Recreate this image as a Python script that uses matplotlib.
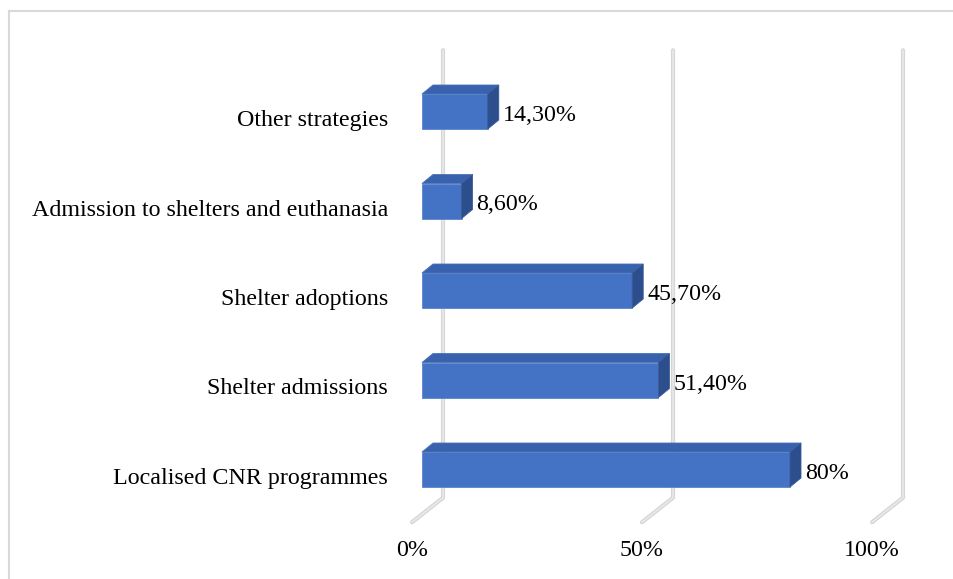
import matplotlib
matplotlib.use("Agg")
import matplotlib.pyplot as plt
from matplotlib.patches import Polygon
from matplotlib.lines import Line2D

# data
categories = ["Localised CNR programmes", "Shelter admissions", "Shelter adoptions",
              "Admission to shelters and euthanasia", "Other strategies"]
values = [80, 51.4, 45.7, 8.6, 14.3]
value_labels = ["80%", "51,40%", "45,70%", "8,60%", "14,30%"]
ticks = [0, 50, 100]
tick_labels = ["0%", "50%", "100%"]

W, H = 954, 579
plt.rcParams['font.family'] = ['Liberation Serif', 'DejaVu Serif']
FS = 17.3

fig = plt.figure(figsize=(W / 100, H / 100), dpi=100)
# axes placed so the front plane of the bars maps onto the reference
ax = fig.add_axes([422 / W, (H - 514.25) / H, 460 / W, 447.5 / H])
ax.set_xlim(0, 100)
ax.set_ylim(-0.5, len(categories) - 0.5)
ax.axis('off')

# pseudo-3d offsets (data units)
px_x = 100 / 460.0
px_y = len(categories) / 447.5
bdx, bdy = 11 * px_x, 9 * px_y          # bar depth
wdx, wdy = 21 * px_x, 16.5 * px_y       # back wall
fdx, fdy = 10 * px_x, 8 * px_y          # floor front edge
bh = 35 * px_y                          # bar thickness

grid_c = '#d6d6d6'
y0, y1 = -0.5, len(categories) - 0.5
for t in ticks:
    xs = [t - fdx, t + wdx, t + wdx]
    ys = [y0 - fdy, y0 + wdy, y1 + wdy]
    ax.add_line(Line2D(xs, ys, color=grid_c, lw=3.0, clip_on=False, zorder=1,
                       solid_capstyle='round', solid_joinstyle='round'))
    ax.add_line(Line2D(xs, ys, color='#ececec', lw=1.0, clip_on=False, zorder=1.1))

front_c, top_c, side_c = '#4472c4', '#3862ae', '#2c4e8c'
for i, v in enumerate(values):
    yb, yt = i - bh / 2, i + bh / 2
    front = Polygon([(0, yb), (v, yb), (v, yt), (0, yt)], closed=True,
                    facecolor=front_c, edgecolor='#5b85cf', lw=0.6, clip_on=False, zorder=3)
    top = Polygon([(0, yt), (v, yt), (v + bdx, yt + bdy), (bdx, yt + bdy)], closed=True,
                  facecolor=top_c, edgecolor='#4a72b8', lw=0.6, clip_on=False, zorder=3)
    side = Polygon([(v, yb), (v + bdx, yb + bdy), (v + bdx, yt + bdy), (v, yt)], closed=True,
                   facecolor=side_c, edgecolor='#3a5c98', lw=0.6, clip_on=False, zorder=3)
    for p in (front, top, side):
        ax.add_patch(p)
    ax.annotate(value_labels[i], xy=(v + bdx, i), xytext=(4, -4), textcoords='offset pixels',
                ha='left', va='center', fontsize=FS, color='black', annotation_clip=False)
    ax.annotate(categories[i], xy=(0, i), xytext=(-34, -9), textcoords='offset pixels',
                ha='right', va='center', fontsize=FS, color='black', annotation_clip=False)

for t, lab in zip(ticks, tick_labels):
    ax.annotate(lab, xy=(t - fdx, y0 - fdy), xytext=(0, -28), textcoords='offset pixels',
                ha='center', va='center', fontsize=FS, color='black', annotation_clip=False)

# chart area border (cropped on right and bottom)
fig.add_artist(Line2D([9 / W, 9 / W], [0, 1 - 11 / H], color='#d9d9d9', lw=1.5,
                      transform=fig.transFigure))
fig.add_artist(Line2D([9 / W, 1], [1 - 11 / H, 1 - 11 / H], color='#d9d9d9', lw=1.5,
                      transform=fig.transFigure))

fig.savefig("out.png", dpi=100)
